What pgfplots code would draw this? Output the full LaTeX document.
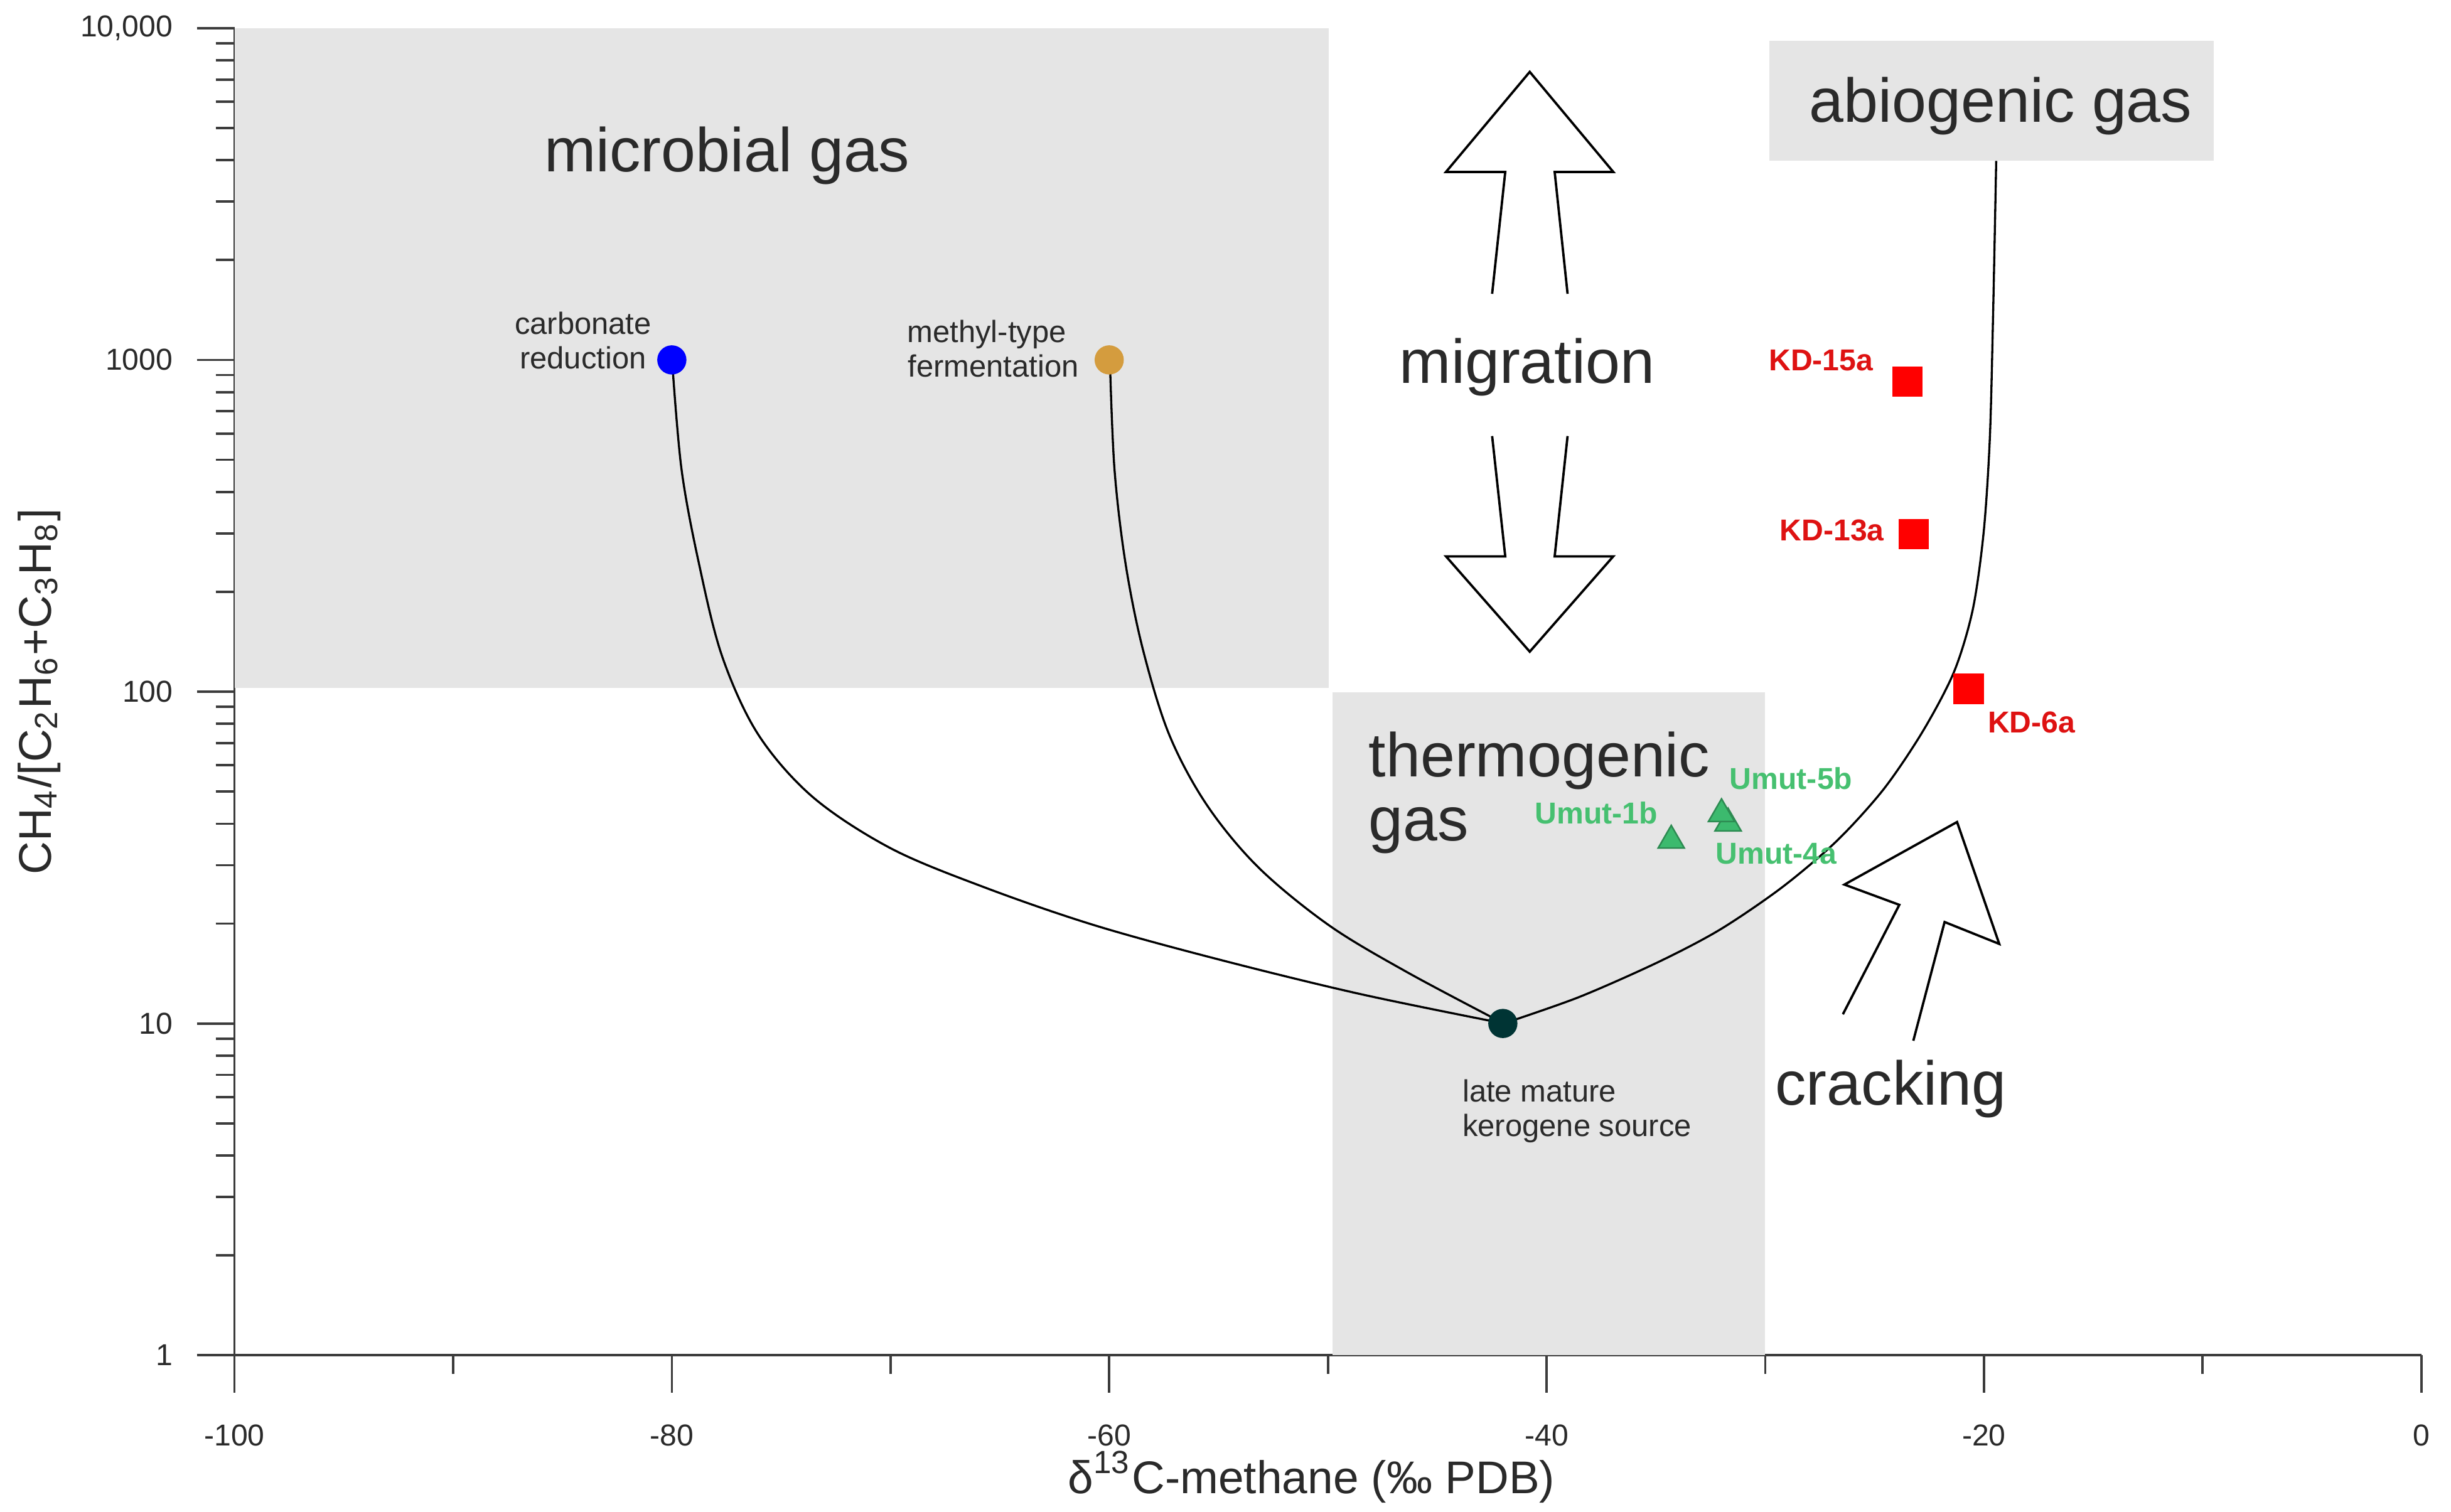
\documentclass[border=0pt]{standalone}
\usepackage{fontspec}
\setmainfont{Liberation Sans}
\usepackage{pgfplots}
\pgfplotsset{compat=1.18}

\definecolor{boxgray}{RGB}{229,229,229}
\definecolor{txtgray}{RGB}{42,42,42}
\definecolor{axgray}{RGB}{60,60,60}
\definecolor{ptred}{RGB}{255,0,0}
\definecolor{lblred}{RGB}{222,18,18}
\definecolor{ptgreen}{RGB}{60,186,110}
\definecolor{lblgreen}{RGB}{70,192,112}
\definecolor{ptblue}{RGB}{0,0,255}
\definecolor{ptgold}{RGB}{212,156,62}
\definecolor{ptdark}{RGB}{0,52,52}

\newcommand\bigf{\fontsize{11.9}{12}\selectfont}
\newcommand\smf{\fontsize{5.9}{7}\selectfont}
\newcommand\lblf{\fontsize{5.8}{7}\selectfont\bfseries}

\begin{document}
\begin{tikzpicture}
\begin{axis}[
  scale only axis, width=419.7pt, height=254.7pt,
  ymode=log, xmin=-100, xmax=0, ymin=1, ymax=10000,
  axis lines*=left,
  axis line style={draw=axgray, line width=0.45pt},
  tick align=outside,
  xtick={-100,-80,-60,-40,-20,0}, xticklabels={-100,-80,-60,-40,-20,0},
  minor xtick={-90,-70,-50,-30,-10},
  ytick={1,10,100,1000,10000}, yticklabels={1,10,100,1000,{10,000}},
  minor ytick={2,3,4,5,6,7,8,9,20,30,40,50,60,70,80,90,200,300,400,500,600,700,800,900,2000,3000,4000,5000,6000,7000,8000,9000},
  major tick length=7.2pt, minor tick length=3.6pt,
  tick style={axgray, line width=0.45pt},
  ticklabel style={font=\fontsize{5.8}{6}\selectfont, text=txtgray},
  xticklabel style={yshift=-2.6pt}, yticklabel style={xshift=-1.1pt},
  /pgf/number format/assume math mode=true,
  xlabel={δ\textsuperscript{13}C-methane (‰ PDB)},
  ylabel={CH\textsubscript{4}/[C\textsubscript{2}H\textsubscript{6}+C\textsubscript{3}H\textsubscript{8}]},
  every axis x label/.style={at={(axis description cs:0.4925,0)}, anchor=center, yshift=-23.4pt, font=\fontsize{8.8}{10}\selectfont, text=txtgray},
  every axis y label/.style={at={(axis description cs:-0.0893,0.5)}, rotate=90, anchor=center, font=\fontsize{8.8}{10}\selectfont, text=txtgray},
  clip=false,
]
% gas fields
\addplot[fill=boxgray, draw=none] coordinates {(-100,102.5)(-49.95,102.5)(-49.95,10000)(-100,10000)} -- cycle;
\addplot[fill=boxgray, draw=none] coordinates {(-49.8,1)(-30.0,1)(-30.0,99.5)(-49.8,99.5)} -- cycle;
\addplot[fill=boxgray, draw=none] coordinates {(-29.8,3980)(-9.5,3980)(-9.5,9170)(-29.8,9170)} -- cycle;

% mixing / maturation curves
\addplot[black, line width=0.4pt, smooth, tension=0.55] coordinates {
 (-79.99,1000)(-79.56,469.6)(-78.77,245.0)(-77.70,127.8)(-76.05,74.3)(-73.55,48.1)
 (-69.98,33.7)(-65.69,25.7)(-60.69,19.79)(-54.97,15.58)(-48.53,12.27)(-41.96,10)
};
\addplot[black, line width=0.4pt, smooth, tension=0.55] coordinates {
 (-59.97,1000)(-59.76,469.6)(-59.26,245.0)(-58.47,134.9)(-57.26,74.3)(-55.54,45.6)
 (-53.18,29.55)(-49.96,19.79)(-46.39,14.29)(-41.96,10)
};
\addplot[black, line width=0.4pt, smooth, tension=0.5] coordinates {
 (-41.96,10)(-38.53,12.0)(-34.95,15.25)(-32.09,19.15)(-29.24,25.7)(-26.73,35.5)(-24.59,50.8)
 (-22.80,75.9)(-21.37,114.7)(-20.51,177)(-20.01,304)(-19.73,583)(-19.58,1389)(-19.44,3980)
};

% hollow arrows
\addplot[black, line width=0.45pt] coordinates {
 (-42.49,1582)(-41.89,3687)(-44.60,3687)(-40.77,7383)(-36.95,3687)(-39.63,3687)(-39.04,1582)};
\addplot[black, line width=0.45pt] coordinates {
 (-42.49,589.6)(-41.89,255.8)(-44.60,255.8)(-40.77,132.0)(-36.95,255.8)(-39.63,255.8)(-39.04,589.6)};
\addplot[black, line width=0.45pt] coordinates {
 (-26.45,10.66)(-23.87,22.78)(-26.38,26.22)(-21.23,40.48)(-19.30,17.37)(-21.80,20.22)(-23.23,8.87)};

% end members
\addplot[only marks, mark=*, mark size=2.6pt, color=ptblue] coordinates {(-80,1000)};
\addplot[only marks, mark=*, mark size=2.6pt, color=ptgold] coordinates {(-60,1000)};
\addplot[only marks, mark=*, mark size=2.6pt, color=ptdark] coordinates {(-42,10)};

% samples
\addplot[only marks, mark=square*, mark size=2.7pt, color=ptred] coordinates {
 (-23.5,861)(-23.2,298)(-20.7,102)};
\addplot[only marks, mark=triangle*, mark size=2.9pt, draw=ptgreen!75!black, fill=ptgreen, line width=0.3pt] coordinates {
 (-34.3,35.6)(-31.7,40.1)(-32.0,42.8)};

% field labels
\node[anchor=base, inner sep=0, text=txtgray, font=\bigf] at (axis cs:-77.48,3687) {microbial gas};
\node[anchor=base, inner sep=0, text=txtgray, font=\bigf] at (axis cs:-19.23,5217) {abiogenic gas};
\node[anchor=base, inner sep=0, text=txtgray, font=\bigf] at (axis cs:-40.89,852.6) {migration};
\node[anchor=base west, inner sep=0, text=txtgray, font=\bigf] at (axis cs:-48.18,55.4) {thermogenic};
\node[anchor=base west, inner sep=0, text=txtgray, font=\bigf] at (axis cs:-48.18,35.5) {gas};
\node[anchor=base west, inner sep=0, text=txtgray, font=\bigf] at (axis cs:-29.59,5.68) {cracking};

% end-member labels
\node[anchor=base, inner sep=0, text=txtgray, font=\smf] at (axis cs:-84.06,1193) {carbonate};
\node[anchor=base, inner sep=0, text=txtgray, font=\smf] at (axis cs:-84.06,940) {reduction};
\node[anchor=base, inner sep=0, text=txtgray, font=\smf] at (axis cs:-65.6,1130) {methyl-type};
\node[anchor=base, inner sep=0, text=txtgray, font=\smf] at (axis cs:-65.3,890) {fermentation};
\node[anchor=base west, inner sep=0, text=txtgray, font=\smf] at (axis cs:-43.89,5.81) {late mature};
\node[anchor=base west, inner sep=0, text=txtgray, font=\smf] at (axis cs:-43.89,4.575) {kerogene source};

% sample labels
\node[anchor=base east, inner sep=0, text=lblred, font=\lblf] at (axis cs:-25.02,929) {KD-15a};
\node[anchor=base east, inner sep=0, text=lblred, font=\lblf] at (axis cs:-24.52,285) {KD-13a};
\node[anchor=base west, inner sep=0, text=lblred, font=\lblf] at (axis cs:-19.87,75.1) {KD-6a};
\node[anchor=base east, inner sep=0, text=lblgreen, font=\lblf] at (axis cs:-34.88,40.0) {Umut-1b};
\node[anchor=base west, inner sep=0, text=lblgreen, font=\lblf] at (axis cs:-31.67,50.8) {Umut-5b};
\node[anchor=base west, inner sep=0, text=lblgreen, font=\lblf] at (axis cs:-32.31,30.2) {Umut-4a};

\coordinate (sw) at (rel axis cs:0,0);
\coordinate (ne) at (rel axis cs:1,1);
\end{axis}
\pgfresetboundingbox
\path[use as bounding box] ([shift={(-45pt,-30pt)}]sw) rectangle ([shift={(5.7pt,5.4pt)}]ne);
\end{tikzpicture}
\end{document}
